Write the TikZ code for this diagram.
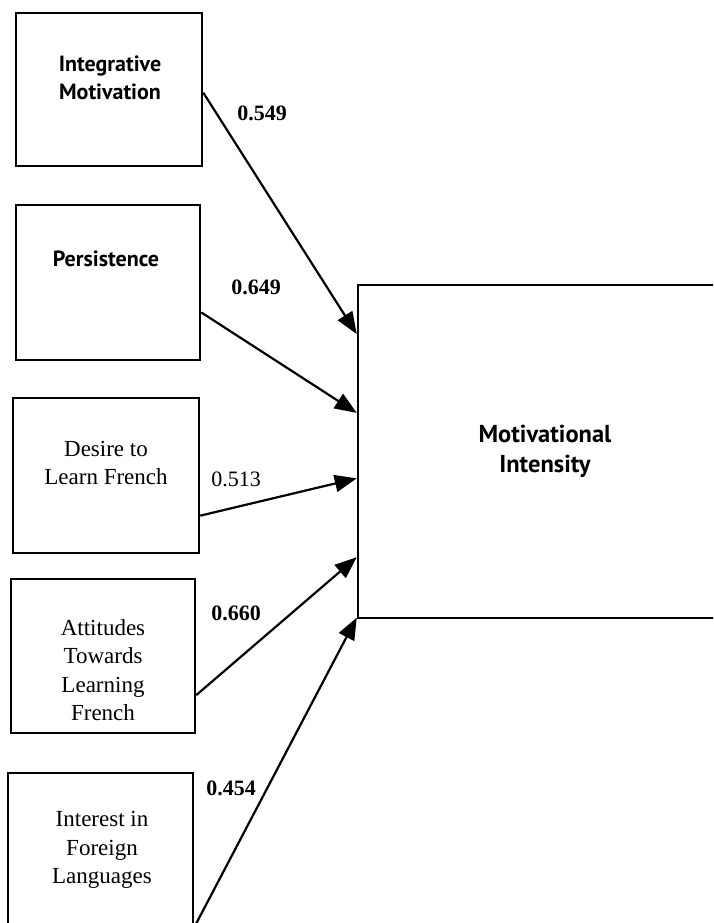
\documentclass[tikz,border=0pt]{standalone}
\usepackage{fontspec}
\setmainfont{Liberation Serif}
\newfontfamily\optfont{PT Sans}
\usetikzlibrary{arrows.meta,calc}
\begin{document}
\begin{tikzpicture}[x=1pt,y=-1pt,
  box/.style={draw,line width=2.5pt,inner sep=0pt},
  conn/.style={line width=2.2pt,-{Triangle[length=22pt,width=17pt]}},
  wt/.style={font=\fontsize{22}{26}\selectfont\bfseries},
  wtr/.style={font=\fontsize{22}{26}\selectfont},
  lab/.style={align=center,font=\fontsize{23}{28.5}\selectfont},
  slab/.style={align=center,font=\fontsize{22}{28.5}\selectfont\optfont\bfseries},
  blab/.style={align=center,font=\fontsize{24.5}{30}\selectfont\optfont\bfseries}
]
\useasboundingbox (0,0) rectangle (713,923);
\clip (0,0) rectangle (713,923);
% boxes
\node[box,minimum width=186pt,minimum height=153pt] (b1) at (109,89.5) {};
\node[box,minimum width=184pt,minimum height=155pt] (b2) at (108,282.5) {};
\node[box,minimum width=186pt,minimum height=155pt] (b3) at (106,475.5) {};
\node[box,minimum width=184pt,minimum height=154pt] (b4) at (103,656) {};
\node[box,minimum width=185pt,minimum height=153pt] (b5) at (100.5,849.5) {};
\node[box,minimum width=374pt,minimum height=333pt,blab] (mi) at (545,451.5) {Motivational\\Intensity};
% labels
\node[slab] (t1) at (110,78) {Integrative\\Motivation};
\node[slab] (t2) at (106,259) {Persistence};
\node[lab] (t3) at (106,463) {Desire to\\Learn French};
\node[lab] (t4) at (103,670) {Attitudes\\Towards\\Learning\\French};
\node[lab] (t5) at (102,850) {Interest in\\Foreign\\Languages};
% connectors
\draw[conn] ($(b1.north east)!0.52!(b1.south east)$) -- ($(mi.north west)!0.15!(mi.south west)$);
\draw[conn] ($(b2.north east)!0.69!(b2.south east)$) -- ($(mi.north west)!0.385!(mi.south west)$);
\draw[conn] ($(b3.north east)!0.755!(b3.south east)$) -- ($(mi.north west)!0.58!(mi.south west)$);
\draw[conn] ($(b4.north east)!0.75!(b4.south east)$) -- ($(mi.north west)!0.815!(mi.south west)$);
\draw[conn] (b5.south east) -- ($(mi.north west)!0.995!(mi.south west)$);
% weights
\node[wt] (w1) at (262,113) {0.549};
\node[wt] (w2) at (256,287) {0.649};
\node[wtr] (w3) at (236,479) {0.513};
\node[wt] (w4) at (236,613) {0.660};
\node[wt] (w5) at (231,788) {0.454};
\end{tikzpicture}
\end{document}
